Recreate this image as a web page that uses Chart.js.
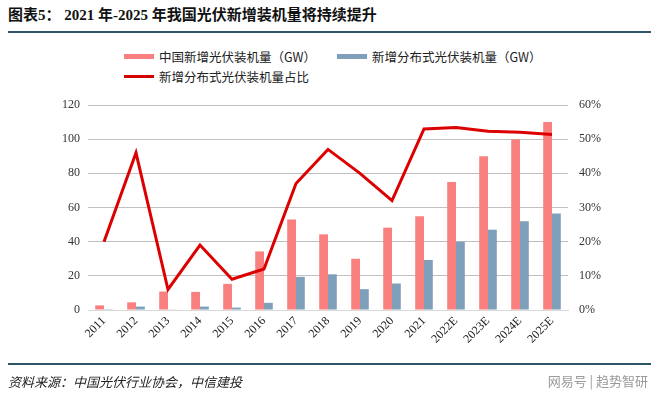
<!DOCTYPE html>
<html>
<head>
<meta charset="utf-8">
<script src="https://cdn.jsdelivr.net/npm/chart.js@4"></script>
<style>
  body { margin: 0; width: 660px; height: 394px; background: #fff; position: relative; overflow: hidden; font-family: "Liberation Serif", "Noto Sans CJK SC", serif; }
  #title { position: absolute; left: 8px; top: 3px; font-size: 15px; font-weight: bold; color: #111; }
  .rule { position: absolute; left: 8px; width: 643px; height: 2px; background: #2e5468; }
  #legend { position: absolute; left: 124px; top: 47px; font-size: 12.5px; color: #222; font-family: "Noto Sans CJK SC", sans-serif; }
  .item { position: absolute; white-space: nowrap; display: flex; align-items: center; }
  .sw { display: inline-block; width: 30px; height: 5px; margin-right: 5px; }
  #source { position: absolute; left: 8px; top: 372px; font-size: 13px; font-style: italic; color: #222; font-family: "Noto Sans CJK SC", sans-serif; }
  #mark { position: absolute; right: 12px; top: 371px; font-size: 13px; color: #999; font-family: "Noto Sans CJK SC", sans-serif; }
  #wrap { position: absolute; left: 0; top: 0; width: 660px; height: 394px; }
</style>
</head>
<body>
<div id="title">图表5： 2021 年-2025 年我国光伏新增装机量将持续提升</div>
<div class="rule" style="top:31px"></div>
<div id="legend">
  <div class="item" style="left:0;top:0"><span class="sw" style="background:#fa8080"></span>中国新增光伏装机量（GW）</div>
  <div class="item" style="left:213px;top:0"><span class="sw" style="background:#7f9fbb"></span>新增分布式光伏装机量（GW）</div>
  <div class="item" style="left:0;top:20px"><span class="sw" style="background:#d40000;height:3px"></span>新增分布式光伏装机量占比</div>
</div>
<div id="wrap"><canvas id="c"></canvas></div>
<div class="rule" style="top:363px"></div>
<div id="source">资料来源：中国光伏行业协会，中信建投</div>
<div id="mark">网易号 | 趋势智研</div>
<script>
const years = ['2011', '2012', '2013', '2014', '2015', '2016', '2017', '2018', '2019', '2020', '2021', '2022E', '2023E', '2024E', '2025E'];
const totalGW = [2.7, 4.5, 10.8, 10.6, 15.3, 34.3, 53, 44.3, 30, 48.2, 54.9, 75, 90, 100, 110];
const distGW = [0.1, 2, 0.2, 2, 1.4, 4.2, 19.4, 20.9, 12.2, 15.5, 29.3, 40, 47, 52, 56.5];
const distShare = [20, 46, 6, 19, 9, 12, 37, 47, 40, 32, 53, 53.4, 52.3, 52, 51.4];
const leftTicks = [0, 20, 40, 60, 80, 100, 120];
const rightTicks = [0, 10, 20, 30, 40, 50, 60];

const tickFont = { family: 'Liberation Serif', size: 12 };

new Chart(document.getElementById('c'), {
    data: {
        labels: years,
        datasets: [
            {
                type: 'line',
                label: '新增分布式光伏装机量占比',
                data: distShare,
                yAxisID: 'y1',
                borderColor: '#dd0000',
                borderWidth: 3,
                pointRadius: 0,
                tension: 0,
                order: 0
            },
            {
                type: 'bar',
                label: '中国新增光伏装机量（GW）',
                data: totalGW,
                yAxisID: 'y',
                backgroundColor: '#fa8080',
                categoryPercentage: 0.55,
                barPercentage: 1,
                order: 1
            },
            {
                type: 'bar',
                label: '新增分布式光伏装机量（GW）',
                data: distGW,
                yAxisID: 'y',
                backgroundColor: '#7f9fbb',
                categoryPercentage: 0.55,
                barPercentage: 1,
                order: 1
            }
        ]
    },
    options: {
        responsive: true,
        maintainAspectRatio: false,
        animation: false,
        layout: { padding: { top: 105, bottom: 0, left: 0, right: 0 } },
        plugins: { legend: { display: false }, tooltip: { enabled: false } },
        scales: {
            x: {
                grid: { display: false, drawTicks: false },
                border: { color: '#d9d9d9' },
                ticks: { color: '#222', font: tickFont, minRotation: 45, maxRotation: 45, autoSkip: false, padding: 4 },
                afterFit: (s) => { s.height = 84; }
            },
            y: {
                position: 'left',
                min: 0,
                max: 120,
                afterBuildTicks: (s) => { s.ticks = leftTicks.map(v => ({ value: v })); },
                grid: { color: '#c0c0c0', drawTicks: false },
                border: { display: false },
                ticks: { color: '#333', font: tickFont, padding: 8 },
                afterFit: (s) => { s.width = 88; }
            },
            y1: {
                position: 'right',
                min: 0,
                max: 60,
                afterBuildTicks: (s) => { s.ticks = rightTicks.map(v => ({ value: v })); },
                grid: { display: false, drawTicks: false },
                border: { display: false },
                ticks: { color: '#333', font: tickFont, padding: 11, callback: v => v + '%' },
                afterFit: (s) => { s.width = 92; }
            }
        }
    }
});
</script>
</body>
</html>
